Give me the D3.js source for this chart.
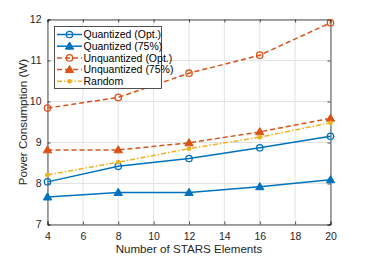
<!DOCTYPE html>
<html><head><meta charset="utf-8">
<script src="https://cdn.jsdelivr.net/npm/d3@7"></script>
<style>body{margin:0;background:#fff}svg{display:block}text{font-family:"Liberation Sans",Arial,sans-serif}</style>
</head><body><svg id="c" width="366" height="257"></svg>
<script>
const elements = [4, 8, 12, 16, 20];
const quantOpt = [8.04, 8.42, 8.61, 8.87, 9.15];
const quant75 = [7.67, 7.78, 7.78, 7.92, 8.09];
const unqOpt = [9.84, 10.10, 10.69, 11.13, 11.92];
const unq75 = [8.82, 8.82, 8.99, 9.26, 9.59];
const random = [8.21, 8.52, 8.85, 9.13, 9.48];
const xTicks = [4, 6, 8, 10, 12, 14, 16, 18, 20];
const yTicks = [7, 8, 9, 10, 11, 12];
const seriesNames = ["Quantized (Opt.)", "Quantized (75%)", "Unquantized (Opt.)", "Unquantized (75%)", "Random"];

const series = [
  {name: seriesNames[0], values: quantOpt, color: "#0072BD", dash: null, marker: "circle"},
  {name: seriesNames[1], values: quant75, color: "#0072BD", dash: null, marker: "triangle"},
  {name: seriesNames[2], values: unqOpt, color: "#D95319", dash: "5,3", marker: "circle"},
  {name: seriesNames[3], values: unq75, color: "#D95319", dash: "5,3", marker: "triangle"},
  {name: seriesNames[4], values: random, color: "#EDB120", dash: "5,2,1.5,2", marker: "dot"}
];

const svg = d3.select("#c");
const L = 47.5, R = 330.5, T = 19.5, B = 224.5;
const x = d3.scaleLinear().domain([4, 20]).range([L, R]);
const y = d3.scaleLinear().domain([7, 12]).range([B, T]);

// grid
svg.append("g").selectAll("line").data(xTicks).join("line")
  .attr("x1", d => x(d)).attr("x2", d => x(d)).attr("y1", T).attr("y2", B)
  .attr("stroke", "#e3e3e3").attr("stroke-width", 1);
svg.append("g").selectAll("line").data(yTicks).join("line")
  .attr("y1", d => y(d)).attr("y2", d => y(d)).attr("x1", L).attr("x2", R)
  .attr("stroke", "#e3e3e3").attr("stroke-width", 1);

// axes
const ax = "#262626";
const xAxis = svg.append("g").attr("transform", `translate(0,${B})`)
  .call(d3.axisBottom(x).tickValues(xTicks).tickSize(-3).tickPadding(8).tickFormat(d3.format("d")));
const xAxisTop = svg.append("g").attr("transform", `translate(0,${T})`)
  .call(d3.axisTop(x).tickValues(xTicks).tickSize(-3).tickFormat(""));
const yAxis = svg.append("g").attr("transform", `translate(${L},0)`)
  .call(d3.axisLeft(y).tickValues(yTicks).tickSize(-3).tickPadding(6).tickFormat(d3.format("d")));
const yAxisR = svg.append("g").attr("transform", `translate(${R},0)`)
  .call(d3.axisRight(y).tickValues(yTicks).tickSize(-3).tickFormat(""));
[xAxis, xAxisTop, yAxis, yAxisR].forEach(g => {
  g.selectAll("path").attr("stroke", ax).attr("stroke-width", 0.8);
  g.selectAll("line").attr("stroke", ax).attr("stroke-width", 0.8);
  g.selectAll("text").attr("fill", ax).style("font-size", "10.5px").style("font-family", '"Liberation Sans",Arial,sans-serif');
});

// lines
const line = d3.line().x((d, i) => x(elements[i])).y(d => y(d));
function drawMarker(g, type, cx, cy, color) {
  if (type === "circle") {
    g.append("circle").attr("cx", cx).attr("cy", cy).attr("r", 3.2)
      .attr("fill", "none").attr("stroke", color).attr("stroke-width", 1.3);
  } else if (type === "triangle") {
    const s = 4.2;
    g.append("path").attr("d", `M${cx},${cy - s}L${cx + s},${cy + s * 0.7}L${cx - s},${cy + s * 0.7}Z`)
      .attr("fill", color).attr("stroke", color).attr("stroke-width", 1);
  } else {
    g.append("circle").attr("cx", cx).attr("cy", cy).attr("r", 2.4).attr("fill", color);
  }
}
series.forEach(s => {
  const g = svg.append("g");
  g.append("path").datum(s.values).attr("d", line).attr("fill", "none")
    .attr("stroke", s.color).attr("stroke-width", 1.5)
    .attr("stroke-dasharray", s.dash);
  s.values.forEach((v, i) => drawMarker(g, s.marker, x(elements[i]), y(v), s.color));
});

// legend
const lg = svg.append("g");
lg.append("rect").attr("x", 54.5).attr("y", 26.5).attr("width", 107).attr("height", 62)
  .attr("fill", "#fff").attr("stroke", "#262626").attr("stroke-width", 0.8);
const ly0 = 34.5, ldy = 11.7;
series.forEach((s, i) => {
  const yy = ly0 + i * ldy;
  lg.append("line").attr("x1", 57).attr("x2", 82).attr("y1", yy).attr("y2", yy)
    .attr("stroke", s.color).attr("stroke-width", 1.5).attr("stroke-dasharray", s.dash);
  drawMarker(lg, s.marker, 69.5, yy, s.color);
  lg.append("text").attr("x", 83.5).attr("y", yy + 3.7).text(s.name)
    .style("font-size", "10.5px").attr("fill", "#000");
});

// labels
svg.append("text").attr("x", (L + R) / 2).attr("y", 253).attr("text-anchor", "middle")
  .style("font-size", "11.6px").attr("fill", ax).text("Number of STARS Elements");
svg.append("text").attr("transform", `translate(27,${(T + B) / 2}) rotate(-90)`)
  .attr("text-anchor", "middle").style("font-size", "11.6px").attr("fill", ax).text("Power Consumption (W)");
</script></body></html>
